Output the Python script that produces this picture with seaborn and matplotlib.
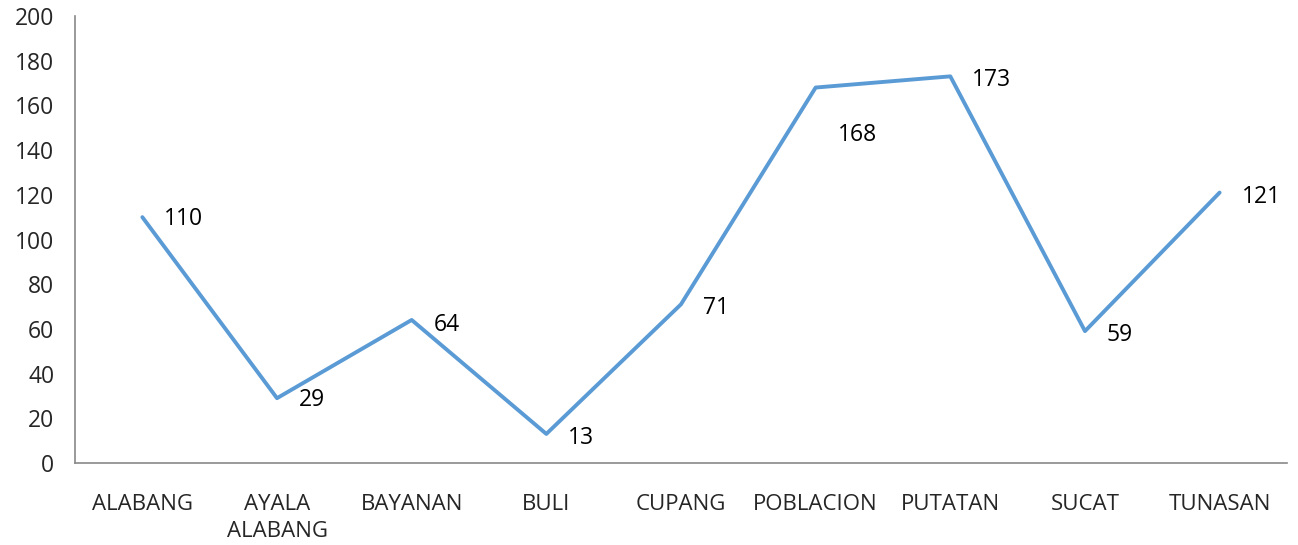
import matplotlib
matplotlib.use("Agg")
import matplotlib.pyplot as plt
import pandas as pd
import seaborn as sns

barangays = ["ALABANG", "AYALA\nALABANG", "BAYANAN", "BULI", "CUPANG",
             "POBLACION", "PUTATAN", "SUCAT", "TUNASAN"]
counts = [110, 29, 64, 13, 71, 168, 173, 59, 121]
# vertical nudge of each value label, pixels
label_dy = [-2, -2, -5, -4, -4, -47, -4, -4, -4]

sns.set_style("white")
plt.rcParams["font.family"] = ["Open Sans", "DejaVu Sans"]

df = pd.DataFrame({"pos": range(len(barangays)), "count": counts})

fig = plt.figure(figsize=(12.98, 5.45), dpi=100)
ax = fig.add_axes([0.0578, 0.1505, 0.9337, 0.8201])

sns.lineplot(data=df, x="pos", y="count", color="#5B9BD5", linewidth=2.8, ax=ax)

for i, v in enumerate(counts):
    ax.annotate(str(v), (i, v), xytext=(22, label_dy[i]), textcoords="offset pixels",
                ha="left", va="center", fontsize=16.5, color="black")

ax.set_xlim(-0.5, len(barangays) - 0.5)
ax.set_ylim(0, 200)
ax.set_yticks(range(0, 201, 20))
ax.set_xticks(range(len(barangays)))
ax.set_xticklabels(barangays, fontsize=16, linespacing=1.4)
ax.set_xticks([i - 0.5 for i in range(len(barangays) + 1)], minor=True)
ax.tick_params(axis="x", which="major", length=0, pad=22)
ax.tick_params(axis="x", which="minor", length=7, color="#898989", width=1.2, direction="out")
ax.tick_params(axis="y", length=7, color="#898989", width=1.2, direction="out", labelsize=16.5, pad=8)
ax.set_xlabel("")
ax.set_ylabel("")

for s in ["top", "right"]:
    ax.spines[s].set_visible(False)
for s in ["left", "bottom"]:
    ax.spines[s].set_color("#898989")
    ax.spines[s].set_linewidth(1.2)

fig.savefig("out.png", dpi=100)
